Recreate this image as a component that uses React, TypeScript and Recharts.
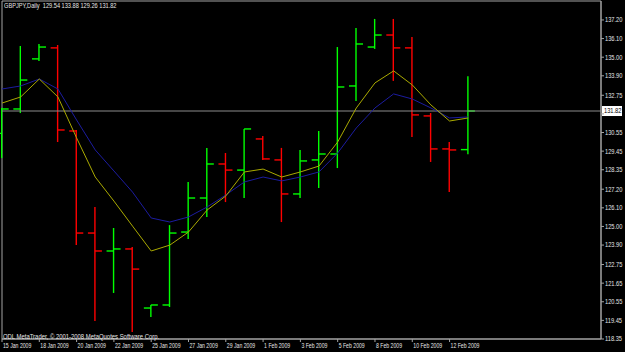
import {
  Bar,
  ComposedChart,
  Line,
  ReferenceArea,
  ReferenceLine,
  XAxis,
  YAxis,
} from 'recharts'

// GBPJPY daily, 15 Jan - 13 Feb 2009
const dates = [
  '15 Jan 2009', '16 Jan 2009', '18 Jan 2009', '19 Jan 2009', '20 Jan 2009',
  '21 Jan 2009', '22 Jan 2009', '23 Jan 2009', '25 Jan 2009', '26 Jan 2009',
  '27 Jan 2009', '28 Jan 2009', '29 Jan 2009', '30 Jan 2009', '1 Feb 2009',
  '2 Feb 2009', '3 Feb 2009', '4 Feb 2009', '5 Feb 2009', '6 Feb 2009',
  '8 Feb 2009', '9 Feb 2009', '10 Feb 2009', '11 Feb 2009', '12 Feb 2009',
  '13 Feb 2009',
]
const opens = [
  130.5, 131.94, 134.9, 135.55, 130.64, 124.61, 123.55, 123.67, 120.18, 120.36,
  124.67, 126.68, 128.69, 128.33, 130.17, 128.93, 126.92, 128.93, 129.28, 133.3,
  135.6, 136.31, 135.55, 131.53, 129.58, 129.54,
]
const highs = [
  132.0, 135.66, 135.78, 135.72, 130.7, 126.15, 124.91, 123.78, 120.36, 125.08,
  127.63, 129.64, 129.34, 130.76, 130.34, 129.64, 129.52, 130.64, 135.6, 136.73,
  137.26, 137.26, 136.2, 131.7, 129.99, 133.88,
]
const lows = [
  129.04, 131.7, 134.78, 129.99, 123.9, 119.41, 121.07, 118.76, 119.65, 120.24,
  124.26, 125.56, 126.44, 126.68, 128.93, 125.26, 126.68, 127.27, 128.45, 132.41,
  135.49, 133.6, 130.29, 128.81, 127.03, 129.26,
]
const closes = [
  131.94, 133.65, 135.6, 130.7, 124.61, 123.55, 123.67, 122.48, 120.36, 124.61,
  126.68, 128.69, 128.33, 130.76, 128.99, 126.92, 128.87, 129.28, 133.24, 135.78,
  136.31, 135.55, 131.59, 129.58, 129.52, 131.82,
]
// moving averages (yellow = fast, blue = slow)
const maFast = [
  132.29, 132.65, 133.71, 132.65, 130.23, 127.92, 126.5, 125.02, 123.55, 123.9,
  124.67, 125.97, 126.8, 128.22, 128.39, 127.92, 128.22, 128.57, 129.99, 132.0,
  133.48, 134.19, 133.36, 132.18, 131.23, 131.41,
]
const maSlow = [
  133.12, 133.3, 133.71, 133.12, 131.29, 129.52, 128.28, 127.03, 125.5, 125.26,
  125.56, 126.15, 126.86, 127.63, 127.92, 127.69, 127.92, 128.22, 129.34, 130.82,
  132.0, 132.83, 132.53, 132.0, 131.41, 131.47,
]
const priceTicks = [
  137.2, 136.1, 135.0, 133.9, 132.75, 131.65, 130.55, 129.45, 128.35, 127.2,
  126.1, 125.0, 123.9, 122.75, 121.65, 120.55, 119.45, 118.35,
]
const dateTicks = [0, 2, 4, 6, 8, 10, 12, 14, 16, 18, 20, 22, 24]
const lastPrice = 131.82

const X_MAX = 32.12
const Y_MIN = 118.35
const Y_MAX = 138.32

const FONT = "'Liberation Sans', Arial, sans-serif"
const TEXT = '#e6e6e6'
const FRAME = '#a4a4a4'

const data = dates.map((d, i) => ({
  i,
  date: d,
  range: [lows[i], highs[i]],
  open: opens[i],
  high: highs[i],
  low: lows[i],
  close: closes[i],
  fast: maFast[i],
  slow: maSlow[i],
}))

function OhlcBar(props: any) {
  const { x, y, width, height, payload } = props
  const { open, high, low, close } = payload
  const cx = x + width / 2
  const k = high === low ? 0 : height / (high - low)
  const yo = y + (high - open) * k
  const yc = y + (high - close) * k
  const color = close >= open ? '#00ff00' : '#ff0000'
  return (
    <g stroke={color} strokeWidth={1.4}>
      <line x1={cx} x2={cx} y1={y} y2={y + height} />
      <line x1={cx - 7} x2={cx} y1={yo} y2={yo} />
      <line x1={cx} x2={cx + 7} y1={yc} y2={yc} />
    </g>
  )
}

// narrow-looking text: squeeze horizontally like the terminal's bitmap font
function Narrow({ x, y, sx, fill = TEXT, children }: any) {
  return (
    <g transform={`translate(${x},${y}) scale(${sx},1)`}>
      <text x={0} y={0} fill={fill} fontSize={6.8} fontFamily={FONT}>
        {children}
      </text>
    </g>
  )
}

function PriceTick({ x, y, payload }: any) {
  // the 131.65 label sits under the last-price box
  if (Math.abs(payload.value - 131.65) < 0.001) return null
  return (
    <Narrow x={x} y={y + 2.4} sx={0.84}>
      {Number(payload.value).toFixed(2)}
    </Narrow>
  )
}

function DateTick({ x, y, payload }: any) {
  return (
    <Narrow x={x + 1} y={y + 4} sx={0.76}>
      {dates[payload.value]}
    </Narrow>
  )
}

function PriceBox({ viewBox }: any) {
  const bx = viewBox.x + viewBox.width + 1
  const by = viewBox.y
  return (
    <g>
      <rect x={bx} y={by - 5} width={20} height={10} fill="#ffffff" />
      <Narrow x={bx + 2} y={by + 2.4} sx={0.84} fill="#000000">
        {lastPrice.toFixed(2)}
      </Narrow>
    </g>
  )
}

const overlayText = {
  position: 'absolute' as const,
  color: TEXT,
  fontFamily: FONT,
  fontSize: 6.8,
  lineHeight: '7px',
  whiteSpace: 'pre' as const,
  transformOrigin: '0 0',
}

export default function App() {
  return (
    <div style={{ position: 'relative', width: 625, height: 352, background: '#000' }}>
      <style>{'body{margin:0;background:#000}'}</style>
      <ComposedChart
        width={625}
        height={352}
        data={data}
        margin={{ top: 1, left: 2, right: 0, bottom: 0 }}
      >
        <XAxis
          type="number"
          dataKey="i"
          domain={[0, X_MAX]}
          ticks={dateTicks}
          interval={0}
          height={13}
          axisLine={{ stroke: FRAME }}
          tickLine={{ stroke: FRAME }}
          tickSize={3}
          tickMargin={2}
          tick={<DateTick />}
        />
        <YAxis
          orientation="right"
          domain={[Y_MIN, Y_MAX]}
          ticks={priceTicks}
          interval={0}
          width={24}
          axisLine={{ stroke: FRAME }}
          tickLine={{ stroke: FRAME }}
          tickSize={3}
          tickMargin={1}
          tick={<PriceTick />}
        />
        <ReferenceArea
          x1={0}
          x2={X_MAX}
          y1={Y_MIN}
          y2={Y_MAX}
          fill="none"
          stroke={FRAME}
          strokeWidth={1}
        />
        <ReferenceLine y={lastPrice} stroke="#8c8c8c" label={<PriceBox />} />
        <Line
          dataKey="slow"
          type="linear"
          stroke="#1c1ca0"
          strokeWidth={1}
          dot={false}
          isAnimationActive={false}
        />
        <Line
          dataKey="fast"
          type="linear"
          stroke="#aaaa00"
          strokeWidth={1}
          dot={false}
          isAnimationActive={false}
        />
        <Bar dataKey="range" barSize={14} shape={<OhlcBar />} isAnimationActive={false} />
      </ComposedChart>
      <div style={{ ...overlayText, left: 4, top: 2, transform: 'scaleX(0.83)' }}>
        {'GBPJPY,Daily  129.54 133.88 129.26 131.82'}
      </div>
      <div style={{ ...overlayText, left: 3, top: 333, transform: 'scaleX(0.87)' }}>
        {'ODL MetaTrader, © 2001-2008 MetaQuotes Software Corp.'}
      </div>
    </div>
  )
}
